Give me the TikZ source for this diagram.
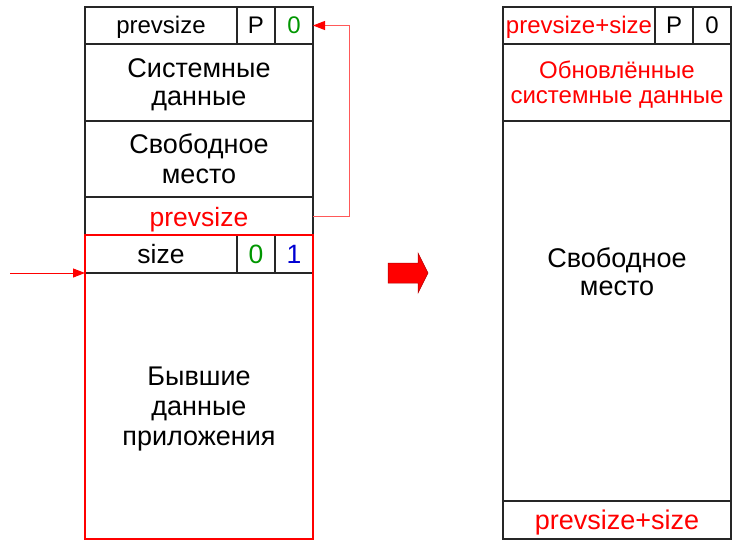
\documentclass[tikz,border=0pt]{standalone}
\usepackage{fontspec}
\setmainfont{Liberation Sans}
\usepackage{tikz}
\usetikzlibrary{arrows.meta,positioning,calc}
\definecolor{bitgreen}{RGB}{0,150,0}
\definecolor{bitblue}{RGB}{0,0,210}

\begin{document}
\begin{tikzpicture}[x=1pt,y=-1pt,
    cell/.style={draw=black!85,line width=1.3pt,anchor=north west,inner sep=0pt,
      outer sep=0pt,align=center,font=\fontsize{27}{30}\selectfont},
    field/.style={cell,minimum width=152pt,minimum height=38pt,
      font=\fontsize{24}{28}\selectfont,text height=20pt,text depth=4.4pt},
    flag/.style={field,minimum width=38pt},
    area/.style={cell,minimum width=228pt},
    lines/.style 2 args={text height=#1,text depth=#2},
    tag/.style={font=\fontsize{26.5}{30}\selectfont,text=red},
    link/.style={-{Triangle[length=12pt,width=9pt,color=red]},line width=1pt,draw=red!65},
    chunk/.style={draw=red,line width=2.2pt},
    bigarrow/.style={fill=red,draw=red!70!black,line width=0.5pt}
  ]
    \useasboundingbox (0,0) rectangle (750,546);

    % Chunk before the merge: header, free block, then the freed chunk.
    \node[field,minimum height=37pt] (pv) at (85,7) {prevsize};
    \node[flag,minimum height=37pt] (pp) at (pv.north east) {P};
    \node[flag,minimum height=37pt,text=bitgreen] (pf) at (pp.north east) {0};
    \node[area,lines={48pt}{3pt},font=\fontsize{27}{28}\selectfont,
      minimum height=77pt] (sys) at (pv.south west) {Системные\\данные};
    \node[area,lines={50pt}{2pt},minimum height=76pt] (free) at (sys.south west)
      {Свободное\\место};
    \node[area,tag,lines={22pt}{0.6pt},minimum height=38pt] (foot)
      at (free.south west) {prevsize};
    \node[field,tag,text=black,lines={22pt}{3.4pt}] (sz) at (foot.south west) {size};
    \node[flag,tag,text=bitgreen,lines={22pt}{3.4pt}] (s0) at (sz.north east) {0};
    \node[flag,tag,text=bitblue,lines={22pt}{3.4pt}] (s1) at (s0.north east) {1};
    \node[area,lines={80pt}{2pt},minimum height=266pt] (old) at (sz.south west)
      {Бывшие\\данные\\приложения};
    \draw[chunk] (sz.north west) rectangle (old.south east);

    \coordinate (in) at (10,273);
    \draw[link,draw=red] (in) -- (sz.south west);
    \draw[link] (foot.east) -- ++(36,0) |- (pf.east);

    % the "becomes" arrow
    \draw[bigarrow] (388,263) -- (418,263) -- (418,253) -- (428,273)
      -- (418,293) -- (418,283) -- (388,283) -- cycle;

    % Chunk after the merge.
    \node[field,minimum height=37pt,text=red] (npv) at (503,7) {prevsize+size};
    \node[flag,minimum height=37pt] (np) at (npv.north east) {P};
    \node[flag,minimum height=37pt] (nf) at (np.north east) {0};
    \node[area,minimum height=77pt,text=red,font=\fontsize{24}{25}\selectfont,
      lines={45pt}{3.4pt}] (nsys) at (npv.south west)
      {Обновлённые\\системные данные};
    \node[area,minimum height=380pt] (nfree) at (nsys.south west) {};
    \node[anchor=base,align=center,font=\fontsize{27}{28}\selectfont] (nfreetext)
      at ($(nfree.north)+(0,174)$) {Свободное\\место};
    \node[area,tag,font=\fontsize{27}{30}\selectfont,lines={22pt}{3.4pt},
      minimum height=38pt] (nfoot) at (nfree.south west) {prevsize+size};
  \end{tikzpicture}
\end{document}
